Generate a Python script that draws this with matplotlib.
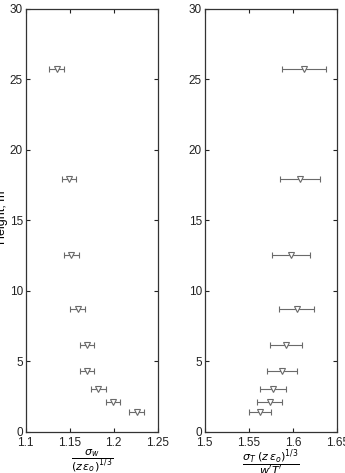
import matplotlib
matplotlib.use("Agg")
import matplotlib.pyplot as plt

plt.rcParams['font.family'] = ['Liberation Sans', 'DejaVu Sans']
plt.rcParams['mathtext.fontset'] = 'dejavusans'

height = [25.75, 17.95, 12.55, 8.75, 6.15, 4.3, 3.05, 2.15, 1.45]
sigma_w = [1.1352, 1.1492, 1.1515, 1.159, 1.170, 1.1697, 1.1825, 1.1992, 1.2261]
sigma_w_err = [0.0083, 0.0083, 0.0085, 0.0081, 0.0081, 0.0081, 0.0082, 0.0082, 0.0082]
sigma_T = [1.6127, 1.6078, 1.5976, 1.6040, 1.5920, 1.5875, 1.5773, 1.5735, 1.5622]
sigma_T_err = [0.025, 0.023, 0.022, 0.0196, 0.0177, 0.0166, 0.015, 0.0143, 0.0125]

xticks_w = [1.1, 1.15, 1.2, 1.25]
xticklabels_w = ['1.1', '1.15', '1.2', '1.25']
xticks_T = [1.5, 1.55, 1.6, 1.65]
xticklabels_T = ['1.5', '1.55', '1.6', '1.65']
yticks = [0, 5, 10, 15, 20, 25, 30]

fig = plt.figure(figsize=(3.45, 4.73), dpi=100)
ax1 = fig.add_axes([0.0745, 0.0867, 0.3826, 0.8943])
ax2 = fig.add_axes([0.5933, 0.0867, 0.3843, 0.8943])

col = '#6a6a6a'
for ax, x, xe, xt, xtl in [(ax1, sigma_w, sigma_w_err, xticks_w, xticklabels_w),
                           (ax2, sigma_T, sigma_T_err, xticks_T, xticklabels_T)]:
    ax.errorbar(x, height, xerr=xe, fmt='v', mfc='white', mec=col, ms=4.5, mew=0.8,
                ecolor=col, elinewidth=0.8, capsize=2.5, capthick=0.8, color=col)
    ax.set_xlim(xt[0], xt[-1])
    ax.set_ylim(0, 30)
    ax.set_xticks(xt)
    ax.set_xticklabels(xtl)
    ax.set_yticks(yticks)
    ax.tick_params(direction='in', top=True, right=True, labelsize=8.5, length=3,
                   width=0.8, colors='#222222')
    ax.tick_params(axis='x', pad=3.5)
    ax.tick_params(axis='y', pad=2)
    for s in ax.spines.values():
        s.set_linewidth(0.9)
        s.set_color('#333333')

ax1.set_xlabel(r'$\dfrac{\sigma_w}{(z\,\epsilon_o)^{1/3}}$', fontsize=8, labelpad=-1)
ax2.set_xlabel(r"$\dfrac{\sigma_T\;(z\,\epsilon_o)^{1/3}}{w'T'}$", fontsize=8, labelpad=-1)
fig.text(-0.012, 0.54, 'Height, m', rotation=90, va='center', ha='left', fontsize=9)

fig.savefig('out.png', dpi=100)
